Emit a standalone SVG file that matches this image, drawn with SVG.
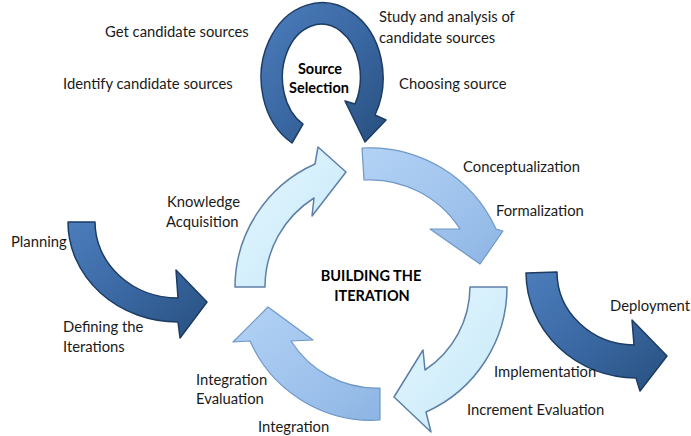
<svg xmlns="http://www.w3.org/2000/svg" width="691" height="436" viewBox="0 0 691 436">
<defs>
<linearGradient id="gDark" x1="0" y1="0" x2="1" y2="1">
<stop offset="0" stop-color="#4C7DBB"/>
<stop offset="0.5" stop-color="#3A68A3"/>
<stop offset="1" stop-color="#28507F"/>
</linearGradient>
<linearGradient id="gMid" x1="0" y1="0" x2="1" y2="1">
<stop offset="0" stop-color="#B3D2F5"/>
<stop offset="0.5" stop-color="#A2C5EE"/>
<stop offset="1" stop-color="#8DB5E3"/>
</linearGradient>
<linearGradient id="gLight" x1="0" y1="0" x2="1" y2="1">
<stop offset="0" stop-color="#E4F6FE"/>
<stop offset="0.6" stop-color="#D2EEFB"/>
<stop offset="1" stop-color="#C2E4F6"/>
</linearGradient>
</defs>
<style>
.dark{fill:url(#gDark);stroke:#1D3C63;stroke-width:1.5;stroke-linejoin:round}
.mid{fill:url(#gMid);stroke:#6F97C6;stroke-width:1.2;stroke-linejoin:round}
.light{fill:url(#gLight);stroke:#5E7FA6;stroke-width:1.5;stroke-linejoin:round}
text{font-family:Lato,"Liberation Sans",sans-serif;font-size:14.8px;fill:#1a1a1a}
.b{font-weight:bold;font-size:14.5px;text-anchor:middle;fill:#000}
</style>
<rect width="691" height="436" fill="#ffffff"/>
<g id="connectors">
<path id="source-ring" class="dark" d="M292,143 A61,75 0 1 1 375,115 L386,120 L365,142 L345,101 L355,104 A39,53 0 1 0 303,124 Z"/>
<path id="arrow-top" class="mid" d="M362,148 A139,139 0 0 1 496,229 L503,231 L480,264 L430,229 L460,229 A107,107 0 0 0 364,180 Z"/>
<path id="arrow-right" class="light" d="M507,287 A137,137 0 0 1 426,412 L431,432 L394,397 L423,350 L425,370 A100,100 0 0 0 470,287 Z"/>
<path id="arrow-bottom" class="mid" d="M380,420 A133,133 0 0 1 250,341 L233,342 L268,307 L313,340 L291,341 A101,101 0 0 0 380,388 Z"/>
<path id="arrow-left" class="light" d="M235,287 A135,135 0 0 1 315,164 L318,147 L346,172 L312,216 L314,198 A105,105 0 0 0 265,287 Z"/>
<path id="arrow-planning" class="dark" d="M68,222 A110,100 0 0 0 178,322 L180,338 L207,302 L176,270 L178,298 A83,76 0 0 1 95,222 Z"/>
<path id="arrow-deployment" class="dark" d="M526,273 A110,106 0 0 0 636,378 L640,391 L667,356 L632,320 L634,345 A78,73 0 0 1 557,272 Z"/>
</g>
<g id="source-selection">
<text class="b" x="320" y="74">Source</text>
<text class="b" x="319" y="93">Selection</text>
</g>
<g id="source-labels">
<text x="105" y="37">Get candidate sources</text>
<text x="379" y="22">Study and analysis of</text>
<text x="379" y="43">candidate sources</text>
<text x="63" y="89">Identify candidate sources</text>
<text x="399" y="89">Choosing source</text>
</g>
<g id="building-iteration">
<text class="b" x="371" y="281">BUILDING THE</text>
<text class="b" x="372" y="301">ITERATION</text>
</g>
<g id="cycle-labels">
<text x="463" y="172">Conceptualization</text>
<text x="496" y="216">Formalization</text>
<text x="167" y="207">Knowledge</text>
<text x="166" y="227">Acquisition</text>
<text x="494" y="377">Implementation</text>
<text x="467" y="415">Increment Evaluation</text>
<text x="196" y="385">Integration</text>
<text x="196" y="404">Evaluation</text>
<text x="258" y="432">Integration</text>
</g>
<g id="planning">
<text x="11" y="247">Planning</text>
<text x="63" y="332">Defining the</text>
<text x="63" y="352">Iterations</text>
</g>
<g id="deployment">
<text x="610" y="311">Deployment</text>
</g>
</svg>
